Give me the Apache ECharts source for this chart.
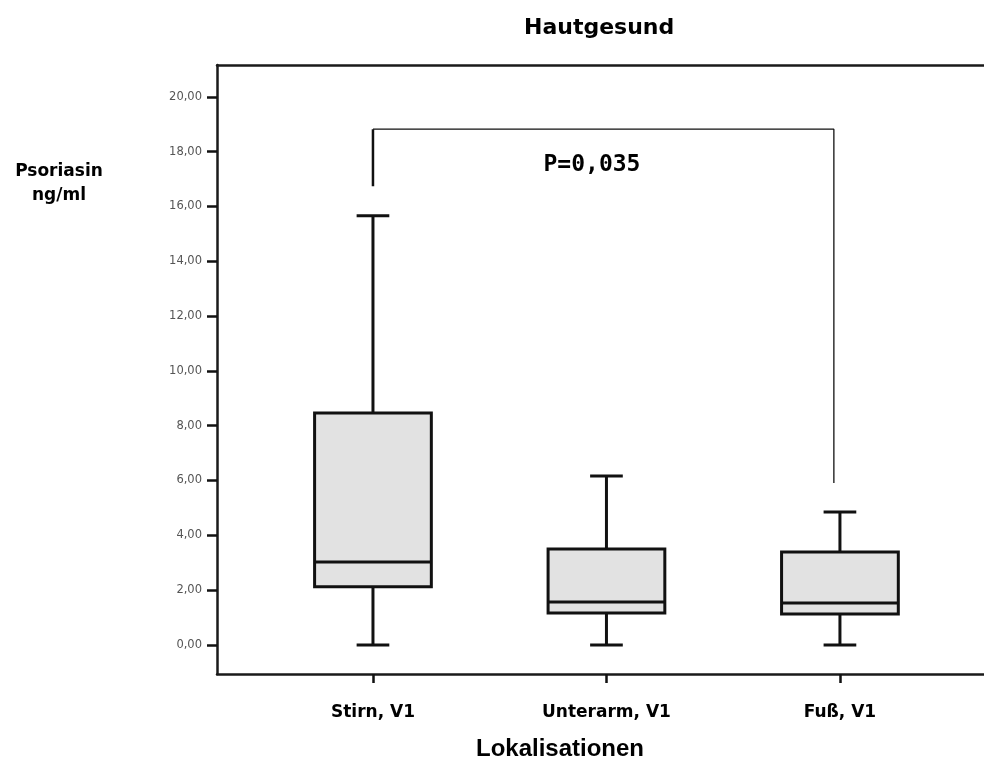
<!DOCTYPE html>
<html>
<head>
<meta charset="utf-8">
<script src="https://cdn.jsdelivr.net/npm/echarts@6/dist/echarts.min.js"></script>
<style>
  html, body { margin: 0; padding: 0; background: #fff; }
  #chart { width: 984px; height: 771px; }
</style>
</head>
<body>
<div id="chart"></div>
<script>
// Psoriasin concentrations per skin location (healthy skin)
const categories = ['Stirn, V1', 'Unterarm, V1', 'Fuß, V1'];
const minVals    = [0.00, 0.00, 0.00];
const q1Vals     = [2.12, 1.17, 1.13];
const medianVals = [3.03, 1.57, 1.53];
const q3Vals     = [8.46, 3.50, 3.39];
const maxVals    = [15.66, 6.16, 4.85];

const yTicks = [0, 2, 4, 6, 8, 10, 12, 14, 16, 18, 20];

// significance bracket between Stirn and Fuß
const bracketLeftLeg = [[0, 16.74], [0, 18.82]];
const bracketSpan = [[0, 18.82], [1.974, 18.82], [1.974, 5.91]];
const pLabel = { text: 'P=0,035', at: [0.938, 17.5] };

const boxData = categories.map((c, i) =>
  [i, minVals[i], q1Vals[i], medianVals[i], q3Vals[i], maxVals[i]]);

const BOX_W = 0.5;   // box width in category units
const CAP_W = 0.14;  // whisker cap width in category units
const LINE = '#111';

function renderBox(params, api) {
  const x = api.value(0);
  const pLo = api.coord([x, api.value(1)]);
  const pQ1 = api.coord([x, api.value(2)]);
  const pMed = api.coord([x, api.value(3)]);
  const pQ3 = api.coord([x, api.value(4)]);
  const pHi = api.coord([x, api.value(5)]);
  const hb = api.size([BOX_W, 0])[0] / 2;
  const hc = api.size([CAP_W, 0])[0] / 2;
  const cx = pMed[0];
  const st = { stroke: LINE, lineWidth: 3, fill: null };
  return {
    type: 'group',
    children: [
      { type: 'line', shape: { x1: cx, y1: pHi[1], x2: cx, y2: pQ3[1] }, style: st },
      { type: 'line', shape: { x1: cx, y1: pQ1[1], x2: cx, y2: pLo[1] }, style: st },
      { type: 'line', shape: { x1: cx - hc, y1: pHi[1], x2: cx + hc, y2: pHi[1] }, style: st },
      { type: 'line', shape: { x1: cx - hc, y1: pLo[1], x2: cx + hc, y2: pLo[1] }, style: st },
      { type: 'rect', shape: { x: cx - hb, y: pQ3[1], width: hb * 2, height: pQ1[1] - pQ3[1] },
        style: { fill: '#e2e2e2', stroke: LINE, lineWidth: 3 } },
      { type: 'line', shape: { x1: cx - hb, y1: pMed[1], x2: cx + hb, y2: pMed[1] }, style: st }
    ]
  };
}

const chart = echarts.init(document.getElementById('chart'), null, { renderer: 'canvas' });

const frameLine = { show: true, onZero: false, lineStyle: { color: '#1a1a1a', width: 2.5 } };

chart.setOption({
  backgroundColor: '#ffffff',
  animation: false,
  grid: { left: 217, top: 65, width: 767, bottom: 97, show: false },
  xAxis: [
    {
      type: 'value', position: 'bottom', min: -0.668, max: 2.617,
      splitLine: { show: false },
      axisLine: frameLine,
      axisTick: { show: true, customValues: [0, 1, 2], length: 9, lineStyle: { color: LINE, width: 2.5 } },
      axisLabel: {
        customValues: [0, 1, 2],
        formatter: v => categories[Math.round(v)],
        margin: 30,
        fontFamily: 'DejaVu Sans', fontWeight: 'bold', fontSize: 17, color: '#000'
      }
    },
    {
      type: 'value', position: 'top', min: -0.668, max: 2.617,
      splitLine: { show: false },
      axisLine: frameLine,
      axisTick: { show: false },
      axisLabel: { show: false }
    }
  ],
  yAxis: {
    type: 'value', min: -1.06, max: 21.16,
    splitLine: { show: false },
    axisLine: frameLine,
    axisTick: { show: true, customValues: yTicks, length: 10, lineStyle: { color: LINE, width: 2.5 } },
    axisLabel: {
      customValues: yTicks,
      formatter: v => v.toFixed(2).replace('.', ','),
      margin: 15,
      fontFamily: 'DejaVu Sans', fontSize: 11.5, color: '#555'
    }
  },
  graphic: [
    { type: 'text', left: 524, top: 17,
      style: { text: 'Hautgesund', font: 'bold 22px "DejaVu Sans"', fill: '#000' } },
    { type: 'text', x: 59, y: 160,
      style: { text: 'Psoriasin\nng/ml', font: 'bold 17px "DejaVu Sans"', fill: '#000',
               textAlign: 'center', lineHeight: 24 } },
    { type: 'text', x: 560, y: 737,
      style: { text: 'Lokalisationen', font: 'bold 24px "Liberation Sans"', fill: '#000',
               textAlign: 'center' } }
  ],
  series: [
    {
      type: 'custom',
      renderItem: renderBox,
      encode: { x: 0, y: [1, 2, 3, 4, 5] },
      data: boxData,
      z: 3
    },
    {
      type: 'line',
      data: bracketLeftLeg,
      symbol: 'none',
      lineStyle: { color: LINE, width: 2.5 },
      z: 2
    },
    {
      type: 'line',
      data: bracketSpan,
      symbol: 'none',
      lineStyle: { color: LINE, width: 1.3 },
      z: 2
    },
    {
      type: 'scatter',
      data: [pLabel.at],
      symbolSize: 0,
      itemStyle: { opacity: 1 },
      label: {
        show: true, position: 'inside', formatter: pLabel.text,
        fontFamily: 'DejaVu Sans Mono', fontWeight: 'bold', fontSize: 23,
        color: '#000', textBorderWidth: 0, opacity: 1
      },
      z: 4
    }
  ]
});
</script>
</body>
</html>
